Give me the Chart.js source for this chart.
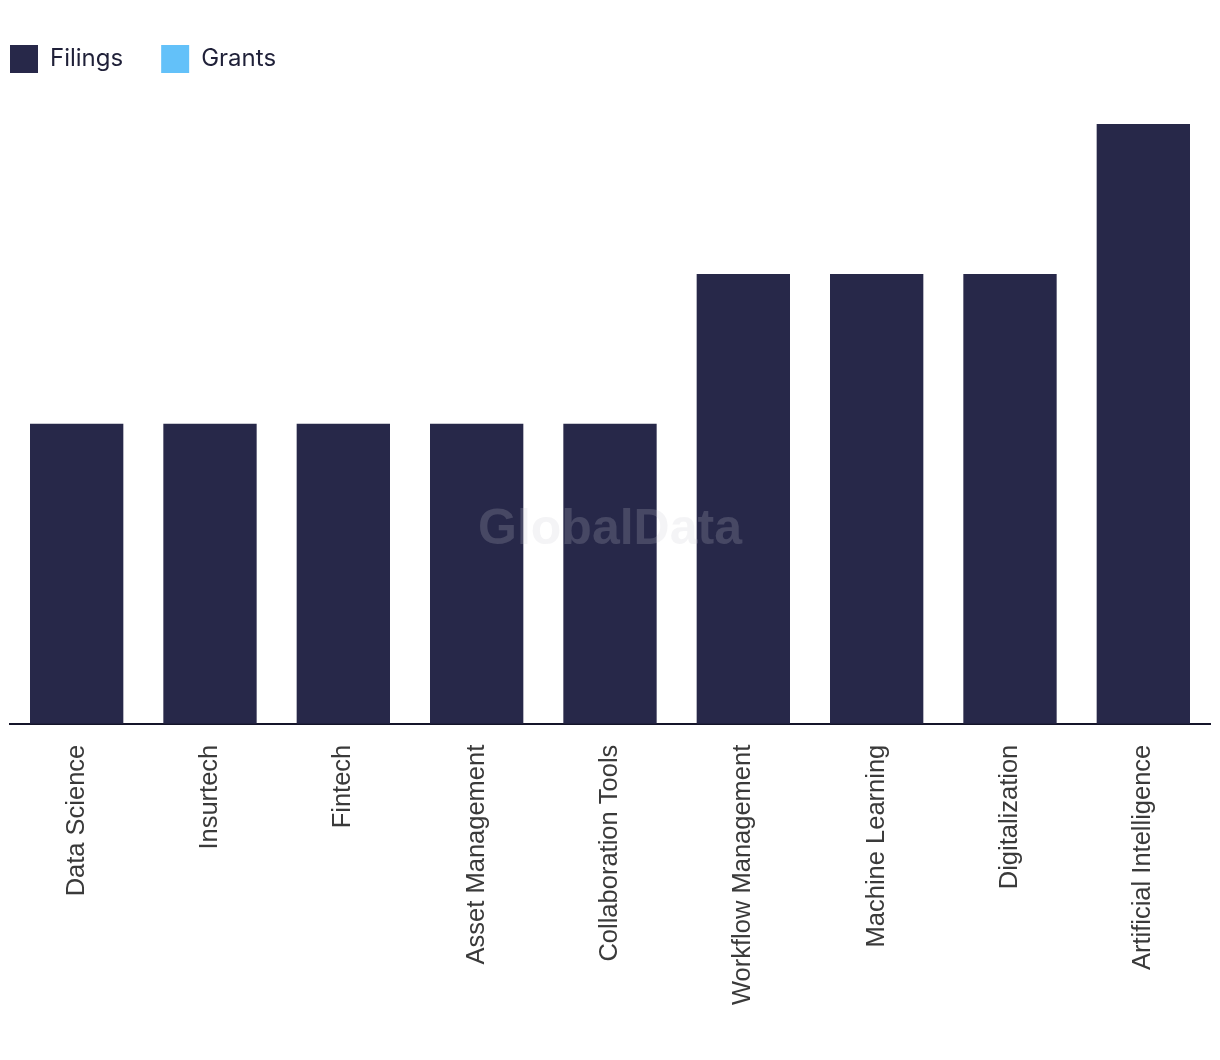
<!DOCTYPE html>
<html>
<head>
<meta charset="utf-8">
<script src="https://cdn.jsdelivr.net/npm/chart.js@4.4.1/dist/chart.umd.min.js"></script>
<style>
  body { margin: 0; background: #fff; }
  #wrap { width: 1220px; height: 1060px; position: relative; }
</style>
</head>
<body>
<div id="wrap"><canvas id="myCanvas"></canvas></div>
<script>
const categories = ['Data Science', 'Insurtech', 'Fintech', 'Asset Management', 'Collaboration Tools',
    'Workflow Management', 'Machine Learning', 'Digitalization', 'Artificial Intelligence'];
const filings = [2, 2, 2, 2, 2, 3, 3, 3, 4];
const grants = [null, null, null, null, null, null, null, null, null];

const navy = '#272849';
const sky = '#63c1f9';
const legendPad = 38;

// extra room under the legend, and pull it back to the left edge
const legendSpace = {
    id: 'legendSpace',
    beforeInit(chart) {
        const fit = chart.legend.fit;
        chart.legend.fit = function () {
            fit.bind(chart.legend)();
            this.height += 41;
        };
    },
    afterLayout(chart) {
        chart.legend.left -= legendPad;
        chart.legend.right -= legendPad;
    }
};

const watermark = {
    id: 'watermark',
    afterDatasetsDraw(chart) {
        const ctx = chart.ctx;
        const area = chart.chartArea;
        ctx.save();
        ctx.font = 'bold 50px "Liberation Sans", Arial, sans-serif';
        ctx.textAlign = 'center';
        ctx.textBaseline = 'middle';
        ctx.fillStyle = 'rgba(200, 200, 212, 0.2)';
        ctx.fillText('GlobalData', (area.left + area.right) / 2, 530);
        ctx.restore();
    }
};

new Chart(document.getElementById('myCanvas'), {
    type: 'bar',
    data: {
        labels: categories,
        datasets: [
            { label: 'Filings', data: filings, backgroundColor: navy },
            { label: 'Grants', data: grants, backgroundColor: sky }
        ]
    },
    options: {
        responsive: true,
        maintainAspectRatio: false,
        animation: false,
        skipNull: true,
        barPercentage: 0.7,
        categoryPercentage: 1,
        layout: { padding: { top: 7, left: 10, right: 10, bottom: 42 } },
        plugins: {
            legend: {
                position: 'top',
                align: 'start',
                labels: {
                    boxWidth: 28,
                    boxHeight: 28,
                    padding: legendPad,
                    color: '#1f2038',
                    font: { family: 'Inter, "Noto Sans", sans-serif', size: 24 }
                }
            },
            tooltip: { enabled: false }
        },
        scales: {
            x: {
                grid: { display: false },
                border: { display: true, color: '#15152a', width: 2 },
                ticks: {
                    color: '#3a3a3a',
                    minRotation: 90,
                    maxRotation: 90,
                    padding: 13,
                    font: { family: '"Liberation Sans", Arial, sans-serif', size: 25.5 }
                }
            },
            y: {
                display: false,
                min: 0,
                max: 4
            }
        }
    },
    plugins: [legendSpace, watermark]
});
</script>
</body>
</html>
